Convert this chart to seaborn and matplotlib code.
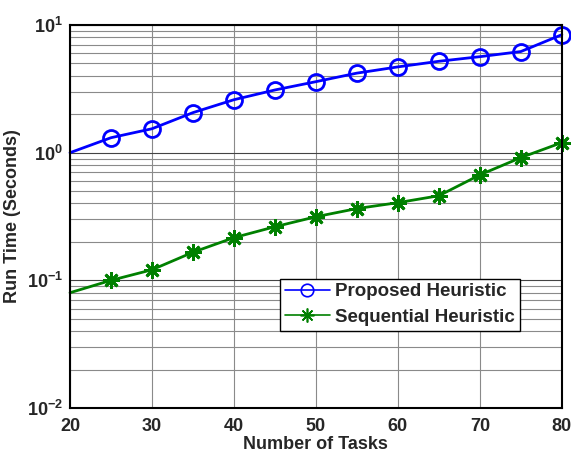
import matplotlib
matplotlib.use("Agg")
import matplotlib.pyplot as plt
import seaborn as sns
import pandas as pd
from matplotlib.lines import Line2D
from matplotlib.ticker import LogLocator, MultipleLocator, NullFormatter

sns.set_style("white")
plt.rcParams['font.family'] = ['Liberation Sans', 'DejaVu Sans']
plt.rcParams['font.weight'] = 'bold'
plt.rcParams['mathtext.fontset'] = 'custom'
plt.rcParams['mathtext.rm'] = 'Liberation Sans:bold'
plt.rcParams['mathtext.bf'] = 'Liberation Sans:bold'

# data
tasks = [20, 25, 30, 35, 40, 45, 50, 55, 60, 65, 70, 75, 80]
proposed = [1.0, 1.31, 1.54, 2.06, 2.6, 3.1, 3.6, 4.2, 4.7, 5.2, 5.65, 6.2, 8.4]
sequential = [0.080, 0.10, 0.121, 0.166, 0.216, 0.263, 0.315, 0.365, 0.406, 0.46, 0.67, 0.915, 1.2]
names = ["Proposed Heuristic", "Sequential Heuristic"]

df = pd.DataFrame({
    "tasks": tasks * 2,
    "time": proposed + sequential,
    "method": [names[0]] * len(tasks) + [names[1]] * len(tasks),
})

fig = plt.figure(figsize=(5.71, 4.55), dpi=100)
ax = fig.add_axes([0.1226, 0.1033, 0.8614, 0.8417])

ax.set_yscale("log")
ax.grid(True, which="major", axis="x", color="#8a8a8a", lw=0.8)
ax.grid(True, which="major", axis="y", color="#444444", lw=0.8)
ax.grid(True, which="minor", axis="y", color="#8a8a8a", lw=0.8)
ax.set_axisbelow(True)

asterisk = (8, 2, 0)
styles = {names[0]: ("blue", "o"), names[1]: ("green", asterisk)}
for name, sub in df.groupby("method", sort=False):
    color, marker = styles[name]
    is_circle = marker == "o"
    sns.lineplot(data=sub, x="tasks", y="time", ax=ax, color=color, lw=2, legend=False,
                 marker=marker, markersize=11.5 if is_circle else 12,
                 markerfacecolor="none" if is_circle else color,
                 markeredgecolor=color, markeredgewidth=2,
                 markevery=slice(1, None), clip_on=False)

ax.set_xlim(20, 80)
ax.set_ylim(1e-2, 1e1)
ax.xaxis.set_major_locator(MultipleLocator(10))
ax.yaxis.set_major_locator(LogLocator(base=10))
ax.yaxis.set_minor_locator(LogLocator(base=10, subs=range(2, 10)))
ax.yaxis.set_minor_formatter(NullFormatter())
ax.tick_params(axis="both", which="both", direction="in", labelsize=13)
ax.tick_params(axis="both", which="major", length=4, width=1)
ax.tick_params(axis="y", which="minor", length=2)
ax.tick_params(axis="x", pad=7)
ax.tick_params(axis="y", pad=5)
for s in ax.spines.values():
    s.set_color("black")
    s.set_linewidth(1.5)

ax.set_xlabel("Number of Tasks", fontsize=13, fontweight="bold", labelpad=1)
ax.set_ylabel("Run Time (Seconds)", fontsize=13, fontweight="bold", labelpad=4)

handles = [
    Line2D([], [], color="blue", lw=1.2, marker="o", markersize=9,
           markerfacecolor="none", markeredgewidth=1.2),
    Line2D([], [], color="green", lw=1.2, marker=asterisk, markersize=10,
           markeredgewidth=1.2),
]
leg = ax.legend(handles, names, loc="upper left", bbox_to_anchor=(0.427, 0.338), fontsize=13.5,
                frameon=True, fancybox=False, framealpha=1, edgecolor="black",
                handlelength=2.4, borderpad=0.25, labelspacing=0.45, handletextpad=0.3,
                borderaxespad=0)
leg.get_frame().set_linewidth(1)

fig.savefig("out.png", dpi=100)
